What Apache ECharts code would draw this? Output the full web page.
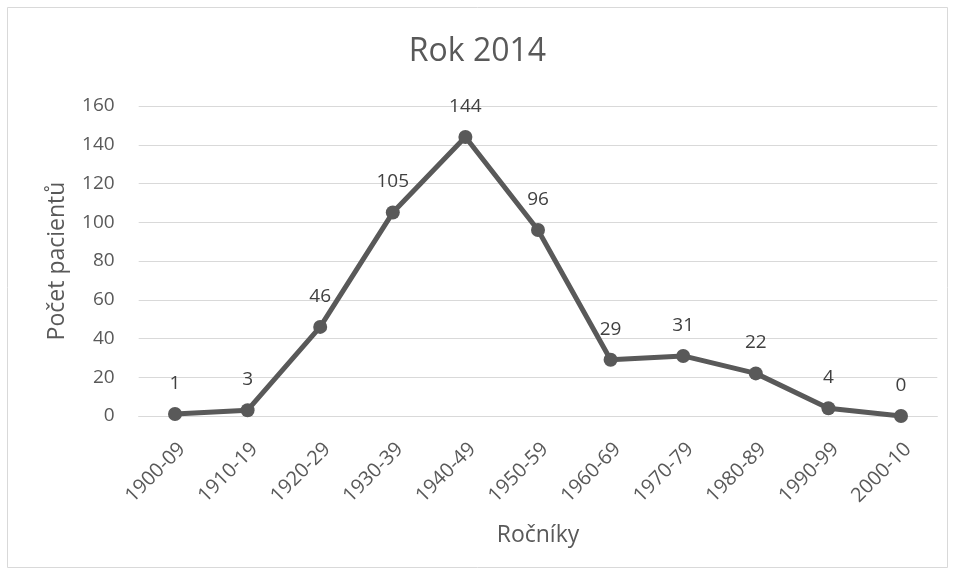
<!DOCTYPE html>
<html><head><meta charset="utf-8">
<script src="https://cdn.jsdelivr.net/npm/echarts@6/dist/echarts.min.js"></script>
<style>html,body{margin:0;padding:0;background:#fff}#c{width:955px;height:577px}</style>
</head><body><div id="c"></div>
<script>
const categories = ['1900-09','1910-19','1920-29','1930-39','1940-49','1950-59','1960-69','1970-79','1980-89','1990-99','2000-10'];
const values = [1,3,46,105,144,96,29,31,22,4,0];
const titleText = 'Rok 2014';
const xName = 'Ročníky';
const yName = 'Počet pacientů';
const FONT = '"Open Sans", sans-serif';
const chart = echarts.init(document.getElementById('c'), null, {renderer:'canvas'});
chart.setOption({
  animation:false,
  backgroundColor:'#fff',
  textStyle:{fontFamily:FONT},
  graphic:[{type:'rect',shape:{x:7.5,y:7.5,width:940,height:560},style:{fill:'none',stroke:'#d9d9d9',lineWidth:1}}],
  title:{text:titleText,left:'center',top:31,textStyle:{fontFamily:FONT,fontSize:32,fontWeight:'normal',color:'#595959'}},
  grid:{left:138.7,right:17.7,top:106,bottom:161,containLabel:false},
  xAxis:{type:'category',data:categories,boundaryGap:true,
    name:xName,nameLocation:'middle',nameGap:108,
    nameTextStyle:{fontFamily:FONT,fontSize:23,color:'#595959'},
    axisLine:{show:true,lineStyle:{color:'#d9d9d9',width:1}},
    axisTick:{show:false},
    axisLabel:{rotate:45,interval:0,margin:23,align:'right',verticalAlign:'top',fontFamily:FONT,fontSize:20,color:'#595959'}},
  yAxis:{type:'value',min:0,max:160,interval:20,
    name:yName,nameLocation:'middle',nameGap:70,
    nameTextStyle:{fontFamily:FONT,fontSize:23,color:'#595959'},
    axisLine:{show:false},axisTick:{show:false},
    axisLabel:{margin:24,fontFamily:FONT,fontSize:19,color:'#595959'},
    splitLine:{lineStyle:{color:'#d9d9d9',width:1}}},
  series:[{type:'line',data:values,
    lineStyle:{color:'#595959',width:5},
    itemStyle:{color:'#595959'},
    symbol:'circle',symbolSize:14,
    label:{show:true,position:'top',distance:14,fontFamily:FONT,fontSize:19,color:'#404040'}}]
});
</script></body></html>
